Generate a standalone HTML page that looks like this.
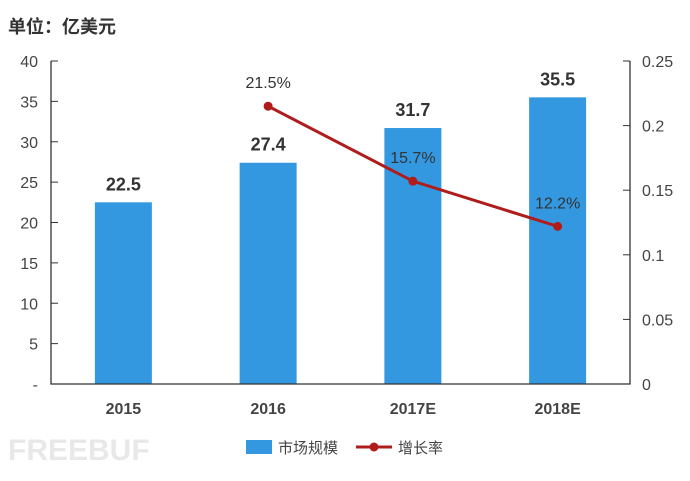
<!DOCTYPE html>
<html><head><meta charset="utf-8"><style>
body{margin:0;background:#fff;}
svg text{font-family:"Liberation Sans","Noto Sans CJK SC",sans-serif;}
</style></head><body>
<svg width="690" height="476" xmlns="http://www.w3.org/2000/svg">
<text x="8" y="33" font-size="18" font-weight="bold" fill="#333">单位：亿美元</text>
<g id="chart"></g>
<text x="8" y="460" font-size="30" font-weight="bold" fill="#e8e8e8">FREEBUF</text>
<g>
<rect x="246" y="440" width="26" height="14" fill="#3498e0"/>
<text x="278" y="453" font-size="15" fill="#444">市场规模</text>
<line x1="356" y1="447" x2="392" y2="447" stroke="#b01c1c" stroke-width="3"/>
<circle cx="374" cy="447" r="4.5" fill="#b01c1c"/>
<text x="398" y="453" font-size="15" fill="#444">增长率</text>
</g>
</svg>
<script>
const categories=["2015","2016","2017E","2018E"];
const marketSize=[22.5,27.4,31.7,35.5];
const growth=[null,0.215,0.157,0.122];
const growthLabels=[null,"21.5%","15.7%","12.2%"];
const leftTicks=[0,5,10,15,20,25,30,35,40];
const leftTickLabels=["-","5","10","15","20","25","30","35","40"];
const rightTicks=[0,0.05,0.1,0.15,0.2,0.25];
const rightTickLabels=["0","0.05","0.1","0.15","0.2","0.25"];

const NS="http://www.w3.org/2000/svg";
const g=document.getElementById("chart");
const L=51,R=630,T=61,B=384;
const yL=v=>B-(v/40)*(B-T);
const yR=v=>B-(v/0.25)*(B-T);
const bw=(R-L)/categories.length;
const xC=i=>L+bw*(i+0.5);
function mk(tag,attrs){const e=document.createElementNS(NS,tag);for(const k in attrs)e.setAttribute(k,attrs[k]);g.appendChild(e);return e;}

categories.forEach((c,i)=>{
  const r=mk("rect",{x:xC(i)-28.5,y:yL(marketSize[i]),width:57,height:B-yL(marketSize[i]),fill:"#3498e0"});
  
  
  const t=mk("text",{x:xC(i),y:yL(marketSize[i])-12,"text-anchor":"middle","font-size":"18","font-weight":"bold",fill:"#333"});
  t.textContent=marketSize[i].toFixed(1);
  
  
  const xl=mk("text",{x:xC(i),y:414,"text-anchor":"middle","font-size":"16","font-weight":"bold",fill:"#444"});
  xl.textContent=c;
  
  
});

const ax=mk("path",{d:`M${L},${T} V${B} H${R} V${T}`,fill:"none",stroke:"#333","stroke-width":"1.3"});


leftTicks.forEach((v,i)=>{
  const tk=mk("line",{x1:L,x2:L+7,y1:yL(v),y2:yL(v),stroke:"#333"});
  
  
  const t=mk("text",{x:L-13,y:yL(v)+6,"text-anchor":"end","font-size":"16",fill:"#444"});
  t.textContent=leftTickLabels[i];
  
  
});
rightTicks.forEach((v,i)=>{
  const tk=mk("line",{x1:R-7,x2:R,y1:yR(v),y2:yR(v),stroke:"#333"});
  
  
  const t=mk("text",{x:R+12,y:yR(v)+6,"font-size":"16",fill:"#444"});
  t.textContent=rightTickLabels[i];
  
  
});

let d="";
growth.forEach((v,i)=>{if(v!==null)d+=(d?"L":"M")+xC(i)+","+yR(v);});
const ln=mk("path",{d:d,fill:"none",stroke:"#b01c1c","stroke-width":"3"});


growth.forEach((v,i)=>{
  if(v===null)return;
  const c=mk("circle",{cx:xC(i),cy:yR(v),r:"4.5",fill:"#b01c1c"});
  
  
  const t=mk("text",{x:xC(i),y:yR(v)-18,"text-anchor":"middle","font-size":"16",fill:"#333"});
  t.textContent=growthLabels[i];
  
  
});
</script>
</body></html>
